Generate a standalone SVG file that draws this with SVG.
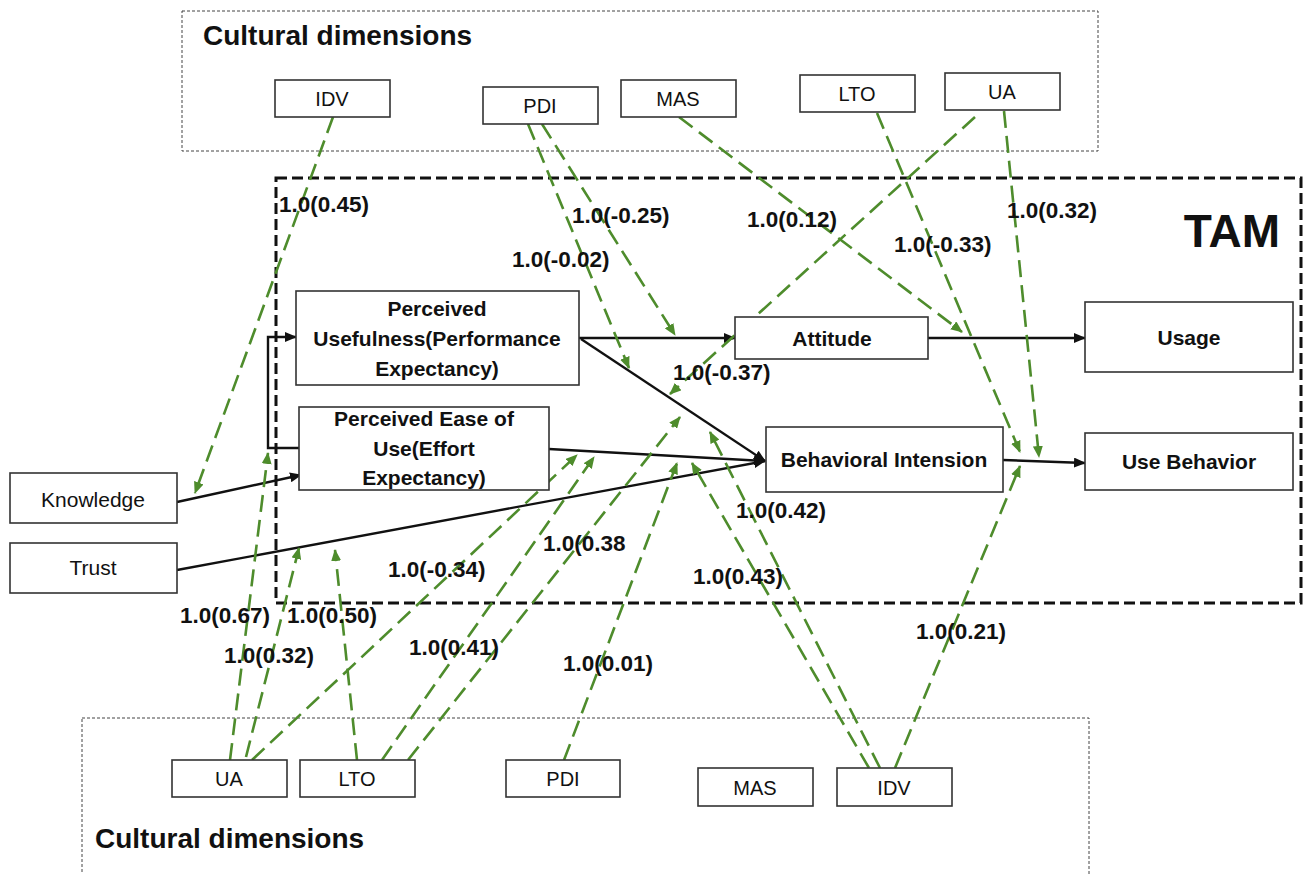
<svg xmlns="http://www.w3.org/2000/svg" width="1303" height="874" viewBox="0 0 1303 874">
<style>
.bg{fill:#fff}
.box{fill:#fff;stroke:#333;stroke-width:1.6}
.dot{fill:none;stroke:#444;stroke-width:1;stroke-dasharray:3 2}
.tam{fill:none;stroke:#111;stroke-width:3;stroke-dasharray:11 5}
.b{font-family:"Liberation Sans",Arial,sans-serif;font-weight:bold;fill:#111}
.r{font-family:"Liberation Sans",Arial,sans-serif;fill:#111}
.n{font-size:21px;text-anchor:middle}
.c{font-size:20px;text-anchor:middle}
.lbl{font-size:22.5px}
.blk{fill:none;stroke:#111;stroke-width:2.4;marker-end:url(#ab)}
.grn{fill:none;stroke:#4e8c2c;stroke-width:2.6;stroke-dasharray:17 8;marker-end:url(#ag)}
</style>
<defs>
<marker id="ab" markerUnits="userSpaceOnUse" markerWidth="12" markerHeight="10" refX="11" refY="5" orient="auto"><path d="M0,0 L12,5 L0,10 z" fill="#111"/></marker>
<marker id="ag" markerUnits="userSpaceOnUse" markerWidth="12" markerHeight="10" refX="11" refY="5" orient="auto"><path d="M0,0 L12,5 L0,10 z" fill="#4e8c2c"/></marker>
</defs>
<rect class="bg" x="0" y="0" width="1303" height="874"/>

<g id="top-cultural">
<rect class="dot" x="182" y="11" width="916" height="140"/>
<text class="b" x="203" y="45" font-size="28">Cultural dimensions</text>
</g>
<g id="bottom-cultural">
<rect class="dot" x="82" y="718" width="1007" height="170"/>
<text class="b" x="95" y="848" font-size="28">Cultural dimensions</text>
</g>
<g id="tam">
<rect class="tam" x="276" y="178" width="1025" height="425"/>
<text class="b" x="1280" y="247" font-size="46" text-anchor="end">TAM</text>
</g>

<g id="connectors">
<path class="blk" d="M579,338 L735,338"/>
<path class="blk" d="M581,339 L765,461"/>
<path class="blk" d="M549,449 L765,461"/>
<path class="blk" d="M177,570 L765,461"/>
<path class="blk" d="M177,502 L301,475"/>
<path class="blk" d="M299,448 L268,448 L268,337 L296,337"/>
<path class="blk" d="M928,338 L1085,338"/>
<path class="blk" d="M1003,460 L1085,463"/>

<path class="grn" d="M333,117 L195,493"/>
<path class="grn" d="M528,124 L629,368"/>
<path class="grn" d="M542,124 L675,335"/>
<path class="grn" d="M679,117 L962,332"/>
<path class="grn" d="M877,113 L1020,452"/>
<path class="grn" d="M975,117 L670,394"/>
<path class="grn" d="M1004,111 L1039,457"/>
<path class="grn" d="M230,760 L268,453"/>
<path class="grn" d="M246,757 L299,548"/>
<path class="grn" d="M252,760 L577,455"/>
<path class="grn" d="M357,760 L335,550"/>
<path class="grn" d="M382,760 L594,457"/>
<path class="grn" d="M408,760 L680,417"/>
<path class="grn" d="M564,760 L677,463"/>
<path class="grn" d="M869,768 L692,463"/>
<path class="grn" d="M880,768 L710,432"/>
<path class="grn" d="M895,768 L1020,466"/>

<text class="b lbl" x="279" y="212">1.0(0.45)</text>
<text class="b lbl" x="512" y="267">1.0(-0.02)</text>
<text class="b lbl" x="572" y="223">1.0(-0.25)</text>
<text class="b lbl" x="747" y="227">1.0(0.12)</text>
<text class="b lbl" x="894" y="252">1.0(-0.33)</text>
<text class="b lbl" x="1007" y="218">1.0(0.32)</text>
<text class="b lbl" x="673" y="380">1.0(-0.37)</text>
<text class="b lbl" x="543" y="551">1.0(0.38</text>
<text class="b lbl" x="388" y="577">1.0(-0.34)</text>
<text class="b lbl" x="736" y="518">1.0(0.42)</text>
<text class="b lbl" x="693" y="584">1.0(0.43)</text>
<text class="b lbl" x="180" y="623">1.0(0.67)</text>
<text class="b lbl" x="287" y="623">1.0(0.50)</text>
<text class="b lbl" x="224" y="663">1.0(0.32)</text>
<text class="b lbl" x="409" y="655">1.0(0.41)</text>
<text class="b lbl" x="563" y="671">1.0(0.01)</text>
<text class="b lbl" x="916" y="639">1.0(0.21)</text>
</g>

<g id="idv-top"><rect class="box" x="275" y="80" width="115" height="37"/><text class="r c" x="332" y="106">IDV</text></g>
<g id="pdi-top"><rect class="box" x="483" y="87" width="115" height="37"/><text class="r c" x="540" y="113">PDI</text></g>
<g id="mas-top"><rect class="box" x="621" y="80" width="115" height="37"/><text class="r c" x="678" y="106">MAS</text></g>
<g id="lto-top"><rect class="box" x="800" y="75" width="115" height="37"/><text class="r c" x="857" y="101">LTO</text></g>
<g id="ua-top"><rect class="box" x="945" y="73" width="115" height="37"/><text class="r c" x="1002" y="99">UA</text></g>

<g id="pu"><rect class="box" x="296" y="291" width="283" height="94"/>
<text class="b n" x="437" y="316">Perceived</text>
<text class="b n" x="437" y="346">Usefulness(Performance</text>
<text class="b n" x="437" y="376">Expectancy)</text></g>
<g id="peu"><rect class="box" x="299" y="407" width="250" height="83"/>
<text class="b n" x="424" y="426">Perceived Ease of</text>
<text class="b n" x="424" y="456">Use(Effort</text>
<text class="b n" x="424" y="485">Expectancy)</text></g>
<g id="attitude"><rect class="box" x="735" y="317" width="193" height="42"/><text class="b n" x="832" y="346">Attitude</text></g>
<g id="usage"><rect class="box" x="1085" y="302" width="208" height="70"/><text class="b n" x="1189" y="345">Usage</text></g>
<g id="bi"><rect class="box" x="766" y="427" width="237" height="65"/><text class="b n" x="884" y="467">Behavioral Intension</text></g>
<g id="ub"><rect class="box" x="1085" y="433" width="208" height="57"/><text class="b n" x="1189" y="469">Use Behavior</text></g>
<g id="knowledge"><rect class="box" x="10" y="473" width="167" height="50"/><text class="r" x="93" y="507" font-size="21" text-anchor="middle">Knowledge</text></g>
<g id="trust"><rect class="box" x="10" y="543" width="167" height="50"/><text class="r" x="93" y="575" font-size="21" text-anchor="middle">Trust</text></g>

<g id="ua-bot"><rect class="box" x="172" y="760" width="115" height="37"/><text class="r c" x="229" y="786">UA</text></g>
<g id="lto-bot"><rect class="box" x="300" y="760" width="115" height="37"/><text class="r c" x="357" y="786">LTO</text></g>
<g id="pdi-bot"><rect class="box" x="506" y="760" width="114" height="37"/><text class="r c" x="563" y="786">PDI</text></g>
<g id="mas-bot"><rect class="box" x="698" y="768" width="115" height="38"/><text class="r c" x="755" y="795">MAS</text></g>
<g id="idv-bot"><rect class="box" x="837" y="768" width="115" height="38"/><text class="r c" x="894" y="795">IDV</text></g>
</svg>
